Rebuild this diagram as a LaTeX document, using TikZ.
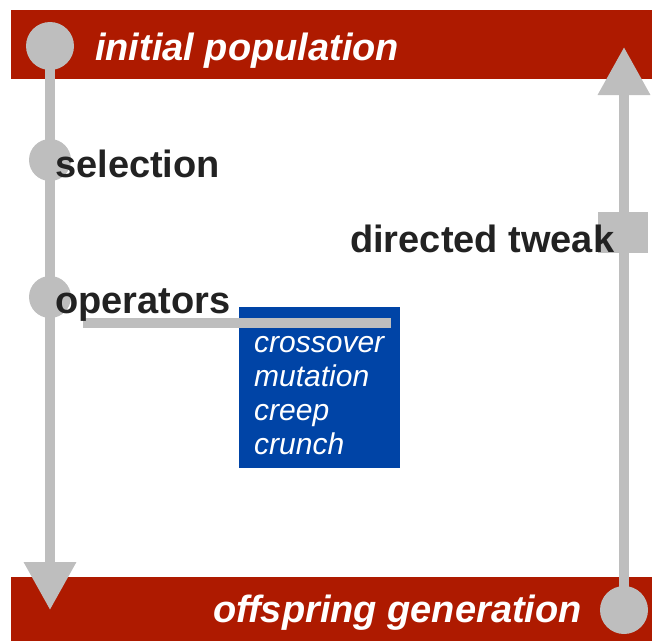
\documentclass[tikz,border=0pt]{standalone}
\usepackage{fontspec}
\setsansfont{Liberation Sans}
\usetikzlibrary{arrows.meta, positioning}
\definecolor{band}{RGB}{174,26,0}
\definecolor{flow}{RGB}{190,190,190}
\definecolor{opblue}{RGB}{0,68,166}
\definecolor{ink}{RGB}{34,34,34}

\tikzset{
  flowline/.style={flow, line width=10pt},
  bigtip/.style={-{Triangle[width=50pt,length=48pt]}},
  knob/.style={circle, fill=flow, inner sep=0pt, minimum size=#1},
  steplabel/.style={ink, font=\sffamily\bfseries\fontsize{38}{41}\selectfont,
                    inner sep=0pt, anchor=base west},
  bandlabel/.style={white, font=\sffamily\bfseries\itshape\fontsize{38}{41}\selectfont,
                    inner sep=0pt},
}

\begin{document}
\begin{tikzpicture}[x=1pt, y=-1pt]
  \useasboundingbox (0,0) rectangle (652,641);
  % red bands
  \fill[band] (11,10) rectangle (652,79);
  \fill[band] (11,577) rectangle (652,641);
  % left flow, from the initial population down
  \node[knob=48pt] (init) at (50,46) {};
  \coordinate (downtip) at (50,610);
  \draw[flowline, bigtip] (init.center) -- (downtip);
  \node[knob=42pt] (sel) at (50,160) {};
  \node[knob=42pt] (op) at (50,297) {};
  % right flow, from the offspring back up
  \node[knob=48pt] (offs) at (624,610) {};
  \coordinate (uptip) at (624,47);
  \draw[flowline, bigtip] (offs.center) -- (uptip);
  \node[fill=flow, minimum width=50pt, minimum height=41pt, inner sep=0pt]
    (tweak) at (623,232.5) {};
  % operator box
  \node[fill=opblue, minimum width=161pt, minimum height=161pt, inner sep=0pt,
        anchor=north west] (opbox) at (239,307) {};
  \coordinate (barstart) at (83,323);
  \coordinate (barend) at (391,323);
  \draw[flowline] (barstart) -- (barend);
  % labels
  \node[bandlabel, anchor=base west] (inittxt) at (95,60) {initial population};
  \node[bandlabel, anchor=base east] (offstxt) at (582,622) {offspring generation};
  \node[steplabel] (seltxt) at (55,177) {selection};
  \node[steplabel] (optxt) at (55,313) {operators};
  \node[steplabel] (tweaktxt) at (350,252) {directed tweak};
  \node[white, font=\sffamily\itshape\fontsize{30}{34}\selectfont, align=left,
        anchor=north west, inner sep=0pt]
    (oplist) at (254,336) {crossover\\mutation\\creep\\crunch};
\end{tikzpicture}
\end{document}
